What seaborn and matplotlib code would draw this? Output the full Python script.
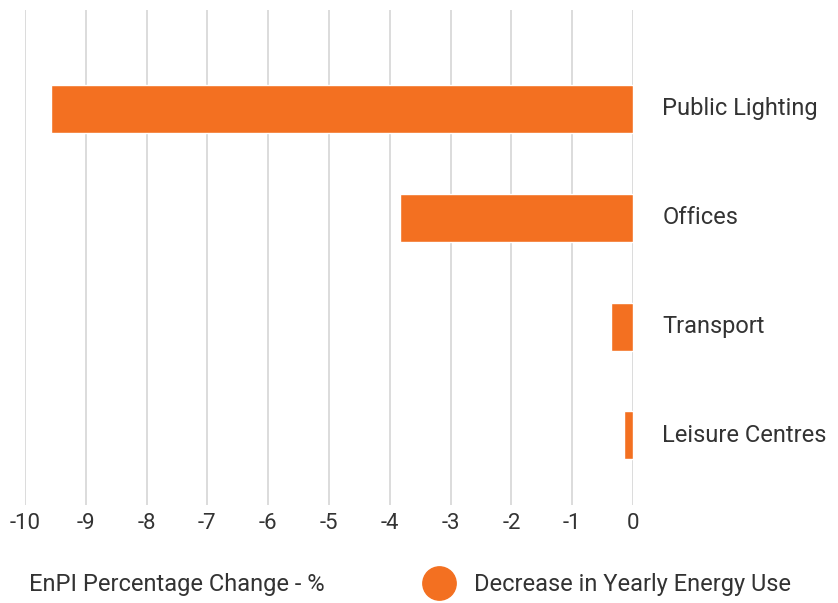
import matplotlib
matplotlib.use("Agg")
import matplotlib.pyplot as plt
import seaborn as sns
import pandas as pd
from matplotlib.lines import Line2D

categories = ["Public Lighting", "Offices", "Transport", "Leisure Centres"]
values = [-9.57, -3.83, -0.37, -0.15]
x_ticks = [-10, -9, -8, -7, -6, -5, -4, -3, -2, -1, 0]
series_name = "Decrease in Yearly Energy Use"
axis_title = "EnPI Percentage Change - %"

ORANGE = "#F37021"
TEXT = "#333333"
GRID = "#d9d9d9"

sns.set_theme(style="white")
plt.rcParams["font.family"] = ["Roboto", "DejaVu Sans"]

df = pd.DataFrame({"category": categories, "value": values})

fig = plt.figure(figsize=(8.38, 6.03), dpi=100)
ax = fig.add_axes([25 / 838, 98 / 603, 608 / 838, 495 / 603])

sns.barplot(data=df, x="value", y="category", color=ORANGE, saturation=1,
            width=0.44, ax=ax, orient="h")

ax.set_xlim(-10, 0)
ax.set_ylim(3.64, -0.91)
ax.set_xticks(x_ticks)
ax.set_xticklabels([str(t) for t in x_ticks])
ax.set_axisbelow(True)
ax.grid(axis="x", color=GRID, linewidth=1.3)
ax.grid(axis="y", visible=False)
for s in ax.spines.values():
    s.set_visible(False)

ax.yaxis.tick_right()
ax.tick_params(axis="y", length=0, pad=21, labelsize=17, labelcolor=TEXT)
ax.tick_params(axis="x", length=0, pad=6, labelsize=16, labelcolor=TEXT)
for lbl in ax.get_yticklabels():
    lbl.set_verticalalignment("center")
ax.set_xlabel("")
ax.set_ylabel("")

fig.text(29 / 838, 1 - 584 / 603, axis_title, fontsize=17, color=TEXT,
         ha="left", va="center")

handle = Line2D([], [], marker="o", linestyle="none", markersize=24,
                markerfacecolor=ORANGE, markeredgecolor=ORANGE)
fig.legend([handle], [series_name], loc="center left",
           bbox_to_anchor=(415 / 838, 1 - 585 / 603), frameon=False,
           fontsize=17, labelcolor=TEXT, handletextpad=0.5,
           borderaxespad=0, borderpad=0)

fig.savefig("out.png", dpi=100)
